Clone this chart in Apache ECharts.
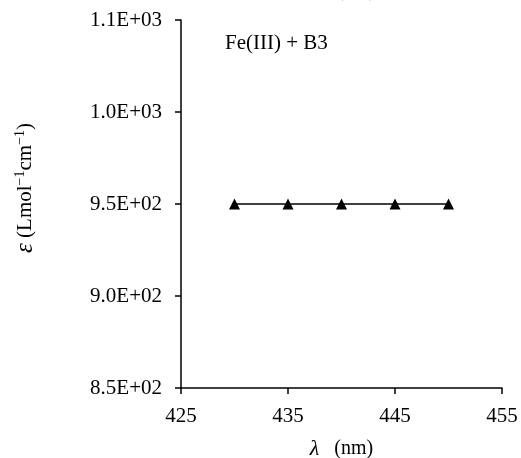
<!DOCTYPE html>
<html><head><meta charset="utf-8">
<script src="https://cdn.jsdelivr.net/npm/echarts@6/dist/echarts.min.js"></script>
<style>html,body{margin:0;padding:0;background:#fff}#c{width:521px;height:458px}</style>
</head><body><div id="c"></div>
<script>
const wavelengths = [430, 435, 440, 445, 450];
const epsilon = [950, 950, 950, 950, 950];
const xTicks = [425, 435, 445, 455];
const yTicks = [850, 900, 950, 1000, 1050];
const yTickLabels = ['8.5E+02', '9.0E+02', '9.5E+02', '1.0E+03', '1.1E+03'];
const seriesLabel = 'Fe(III) + B3';

const FONT = '"Liberation Serif", "Times New Roman", serif';
const chart = echarts.init(document.getElementById('c'), null, {renderer: 'canvas'});
chart.setOption({
  animation: false,
  backgroundColor: '#fff',
  grid: {left: 181, right: 19, top: 20, bottom: 70, containLabel: false, outerBoundsMode: 'none'},
  xAxis: {
    type: 'value', min: 425, max: 455,
    name: '{i|λ}   (nm)', nameLocation: 'middle', nameGap: 50,
    nameTextStyle: {fontFamily: FONT, fontSize: 20, color: '#000',
      rich: {i: {fontStyle: 'italic', fontFamily: FONT, fontSize: 22, color: '#000'}}},
    axisLine: {show: true, onZero: false, lineStyle: {color: '#000', width: 1.5}},
    axisTick: {show: true, length: 6, inside: false, customValues: xTicks, lineStyle: {color: '#000', width: 1.5}},
    axisLabel: {customValues: xTicks, fontFamily: FONT, fontSize: 21, color: '#000', margin: 18},
    splitLine: {show: false}
  },
  yAxis: {
    type: 'value', min: 850, max: 1050, interval: 50,
    axisLine: {show: true, onZero: false, lineStyle: {color: '#000', width: 1.5}},
    axisTick: {show: true, length: 6, inside: false, lineStyle: {color: '#000', width: 1.5}},
    axisLabel: {fontFamily: FONT, fontSize: 21, color: '#000', margin: 19,
      formatter: function (v) { const i = yTicks.indexOf(v); return i >= 0 ? yTickLabels[i] : ''; }},
    splitLine: {show: false}
  },
  graphic: [
    {type: 'text', left: 225, top: 33, style: {text: seriesLabel, font: '21px ' + FONT, fill: '#000'}},
    {type: 'text', left: 312, top: -19, style: {text: 'λ   (nm)', font: '20px ' + FONT, fill: '#000'}},
    {type: 'text', x: 25, y: 188, rotation: Math.PI / 2,
      style: {text: '{i|ε} (Lmol{s|−1}cm{s|−1})', font: '21px ' + FONT, fill: '#000',
        align: 'center', verticalAlign: 'middle',
        rich: {i: {fontStyle: 'italic', fontFamily: FONT, fontSize: 25, fill: '#000'},
               s: {fontFamily: FONT, fontSize: 14, fill: '#000', padding: [0, 0, 10, 0]}}}}
  ],
  series: [{
    type: 'line',
    data: wavelengths.map((x, i) => [x, epsilon[i]]),
    symbol: 'triangle', symbolSize: 11,
    itemStyle: {color: '#000'},
    lineStyle: {color: '#000', width: 1.5}
  }]
});
</script></body></html>
